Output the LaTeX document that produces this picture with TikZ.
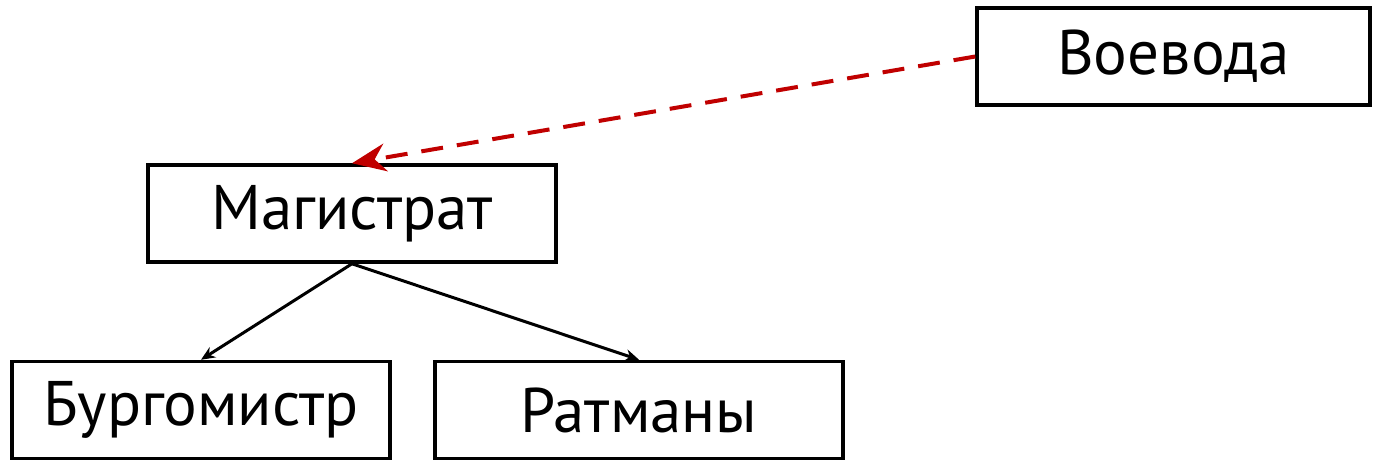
\documentclass[tikz,border=0pt]{standalone}
\usepackage{fontspec}
\setmainfont{PT Sans}
\usetikzlibrary{arrows.meta}

\tikzset{every picture/.style={line width=0.75pt}}
\tikzset{
  office/.style={draw, line width=3.5pt, minimum height=97pt, inner sep=0pt, font=\fontsize{63}{70}\selectfont},
  subord/.style={line width=3pt, -{Stealth[length=14pt,width=12pt]}},
  control/.style={draw={rgb,255:red,192;green,0;blue,0}, line width=4pt, dash pattern=on 22pt off 14pt, -{Stealth[length=34pt,width=28pt,fill={rgb,255:red,192;green,0;blue,0}]}}
}

\begin{document}
\begin{tikzpicture}[x=1pt,y=1pt,yscale=-1]
\useasboundingbox (0,0) rectangle (1376,459);

% Nodes
\node [office, minimum width=393pt] (voevoda) at (1173.5,56.5) {Воевода};
\node [office, minimum width=408pt] (magistrat) at (352,213.5) {Магистрат};
\node [office, minimum width=378pt] (burgomistr) at (201,410) {Бургомистр};
\node [office, minimum width=408pt] (ratmany) at (639,410) {Ратманы};

% Connectors
\draw [subord] (magistrat.south) -- (burgomistr.north);
\draw [subord] (magistrat.south) -- (ratmany.north);
\draw [control] (voevoda.west) -- (magistrat.north);

\end{tikzpicture}
\end{document}
